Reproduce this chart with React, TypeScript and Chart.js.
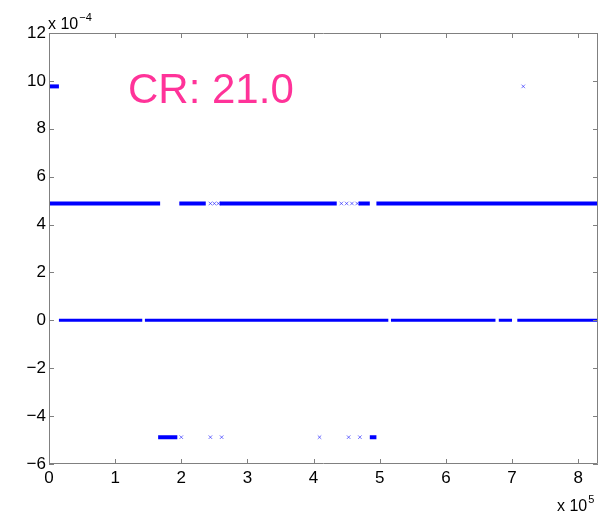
import React, { useEffect, useRef } from "react";
import { Chart, registerables } from "chart.js";

Chart.register(...registerables);

// Axis ranges and tick positions
const X_MIN = 0;
const X_MAX = 830000;
const X_TICKS = [0, 100000, 200000, 300000, 400000, 500000, 600000, 700000, 800000];
const Y_MIN = -6e-4;
const Y_MAX = 12e-4;
const Y_TICKS = [-6e-4, -4e-4, -2e-4, 0, 2e-4, 4e-4, 6e-4, 8e-4, 10e-4, 12e-4];

// Quantisation levels of the error signal
const LEVEL_HIGH = 9.77e-4;
const LEVEL_UPPER = 4.88e-4;
const LEVEL_ZERO = 0;
const LEVEL_LOWER = -4.88e-4;

// Dense runs of samples on each level: [first index, last index]
const HIGH_RUNS = [[0, 15000]];
const UPPER_RUNS = [
  [0, 168000],
  [197000, 237000],
  [258000, 435000],
  [468000, 485000],
  [495000, 830000],
];
const ZERO_RUNS = [
  [15000, 141000],
  [145000, 513000],
  [517000, 675000],
  [680000, 700000],
  [708000, 830000],
];
const LOWER_RUNS = [
  [165000, 194000],
  [485000, 495000],
];

// Isolated samples on each level
const HIGH_SINGLES = [717000];
const UPPER_SINGLES = [244000, 250000, 256000, 442000, 450000, 458000, 466000];
const LOWER_SINGLES = [200000, 244000, 261000, 409000, 453000, 470000];

const BLUE = "#0000ff";
const AXIS_GRAY = "#808080";
const FONT = "'Liberation Sans', Arial, Helvetica, sans-serif";
const TICK_FONT_SIZE = 17;

function runsToData(runs: number[][], level: number) {
  const out: { x: number; y: number | null }[] = [];
  runs.forEach(([a, b]) => {
    out.push({ x: a, y: level });
    out.push({ x: b, y: level });
    out.push({ x: b, y: null });
  });
  return out;
}

function singlesToData(xs: number[], level: number) {
  return xs.map((x) => ({ x, y: level }));
}

function runDataset(runs: number[][], level: number, width: number) {
  return {
    data: runsToData(runs, level),
    borderColor: BLUE,
    backgroundColor: BLUE,
    borderWidth: width,
    borderCapStyle: "butt" as const,
    pointRadius: 0,
    spanGaps: false,
    tension: 0,
  };
}

function singleDataset(xs: number[], level: number) {
  return {
    data: singlesToData(xs, level),
    showLine: false,
    pointStyle: "crossRot" as const,
    pointRadius: 2.5,
    pointBorderWidth: 1,
    borderColor: "rgba(0,0,255,0.55)",
    backgroundColor: "rgba(0,0,255,0.55)",
  };
}

const framePlugin = {
  id: "matlabFrame",
  afterDraw(chart: any) {
    const { ctx, chartArea } = chart;
    const { left, right, top, bottom } = chartArea;
    const xs = chart.scales.x;
    const ys = chart.scales.y;
    const tick = 5;
    ctx.save();
    ctx.strokeStyle = AXIS_GRAY;
    ctx.lineWidth = 1;
    ctx.beginPath();
    ctx.rect(left + 0.5, top + 0.5, right - left - 1, bottom - top - 1);
    ctx.stroke();

    ctx.beginPath();
    xs.ticks.forEach((t: any) => {
      const px = Math.round(xs.getPixelForValue(t.value)) + 0.5;
      ctx.moveTo(px, bottom);
      ctx.lineTo(px, bottom - tick);
      ctx.moveTo(px, top);
      ctx.lineTo(px, top + tick);
    });
    ys.ticks.forEach((t: any) => {
      const py = Math.round(ys.getPixelForValue(t.value)) + 0.5;
      ctx.moveTo(left, py);
      ctx.lineTo(left + tick, py);
      ctx.moveTo(right, py);
      ctx.lineTo(right - tick, py);
    });
    ctx.stroke();

    // exponent labels
    ctx.fillStyle = "#000";
    ctx.textBaseline = "alphabetic";
    ctx.textAlign = "left";
    ctx.font = `16px ${FONT}`;
    ctx.fillText("x 10", 48, 29);
    let w = ctx.measureText("x 10").width;
    ctx.font = `11px ${FONT}`;
    ctx.fillText("\u22124", 48 + w + 1, 21);

    ctx.font = `16px ${FONT}`;
    ctx.fillText("x 10", 557, 511);
    w = ctx.measureText("x 10").width;
    ctx.font = `11px ${FONT}`;
    ctx.fillText("5", 557 + w + 1, 503);

    // annotation
    ctx.fillStyle = "#ff3399";
    ctx.font = `42px ${FONT}`;
    ctx.fillText("CR: 21.0", 128, 103);
    ctx.restore();
  },
};

export default function App() {
  const canvasRef = useRef<HTMLCanvasElement | null>(null);

  useEffect(() => {
    if (!canvasRef.current) return;
    const chart = new Chart(canvasRef.current, {
      type: "line",
      data: {
        datasets: [
          runDataset(HIGH_RUNS, LEVEL_HIGH, 4),
          runDataset(UPPER_RUNS, LEVEL_UPPER, 4),
          runDataset(ZERO_RUNS, LEVEL_ZERO, 3),
          runDataset(LOWER_RUNS, LEVEL_LOWER, 4),
          singleDataset(HIGH_SINGLES, LEVEL_HIGH),
          singleDataset(UPPER_SINGLES, LEVEL_UPPER),
          singleDataset(LOWER_SINGLES, LEVEL_LOWER),
        ] as any,
      },
      options: {
        animation: false,
        responsive: true,
        maintainAspectRatio: false,
        layout: { padding: { top: 33, right: 8, left: 0, bottom: 0 } },
        plugins: { legend: { display: false }, tooltip: { enabled: false } },
        scales: {
          x: {
            type: "linear",
            bounds: "data",
            min: X_MIN,
            max: X_MAX,
            grid: { display: false, drawTicks: false, tickLength: 0 },
            border: { display: false },
            afterBuildTicks: (s: any) => {
              s.ticks = X_TICKS.map((value) => ({ value }));
            },
            ticks: {
              maxRotation: 0,
              autoSkip: false,
              padding: 4,
              color: "#000",
              font: { family: FONT, size: TICK_FONT_SIZE },
              callback: (v: any) => String(Math.round(Number(v) / 1e5)),
            },
            afterFit: (s: any) => {
              s.height = 55;
            },
          },
          y: {
            type: "linear",
            bounds: "data",
            min: Y_MIN,
            max: Y_MAX,
            grid: { display: false, drawTicks: false, tickLength: 0 },
            border: { display: false },
            afterBuildTicks: (s: any) => {
              s.ticks = Y_TICKS.map((value) => ({ value }));
            },
            ticks: {
              autoSkip: false,
              padding: 3,
              color: "#000",
              font: { family: FONT, size: TICK_FONT_SIZE },
              callback: (v: any) => {
                const n = Math.round(Number(v) * 1e4);
                return n < 0 ? "\u2212" + Math.abs(n) : String(n);
              },
            },
            afterFit: (s: any) => {
              s.width = 49;
            },
          },
        },
      },
      plugins: [framePlugin],
    });
    return () => chart.destroy();
  }, []);

  return (
    <div
      style={{
        position: "absolute",
        left: 0,
        top: 0,
        width: 606,
        height: 519,
        background: "#fff",
      }}
    >
      <canvas ref={canvasRef} />
    </div>
  );
}
